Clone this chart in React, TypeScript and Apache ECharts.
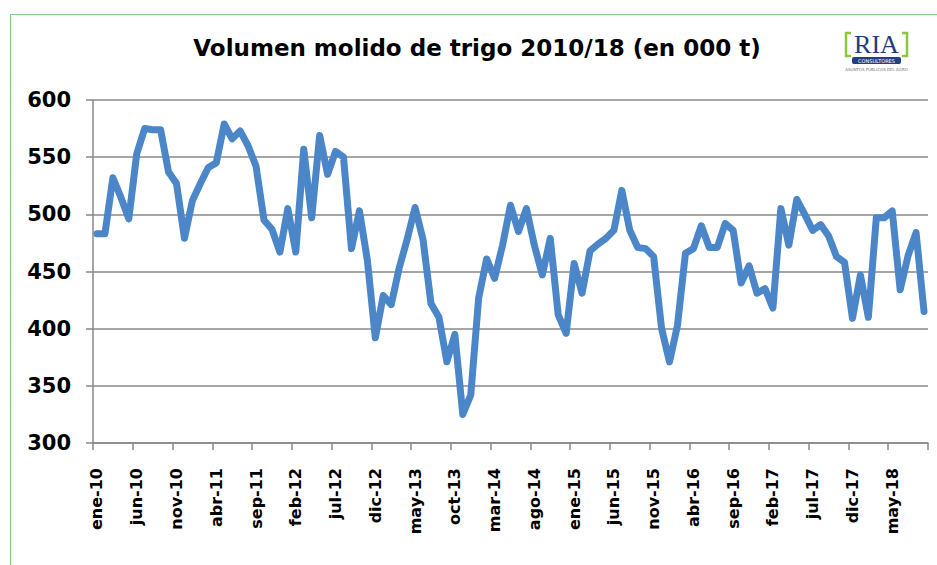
import React, { useEffect, useRef } from "react";
import * as echarts from "echarts";

const categories: string[] = [
  "ene-10", "feb-10", "mar-10", "abr-10", "may-10", "jun-10", "jul-10", "ago-10", "sep-10", "oct-10", "nov-10", "dic-10",
  "ene-11", "feb-11", "mar-11", "abr-11", "may-11", "jun-11", "jul-11", "ago-11", "sep-11", "oct-11", "nov-11", "dic-11",
  "ene-12", "feb-12", "mar-12", "abr-12", "may-12", "jun-12", "jul-12", "ago-12", "sep-12", "oct-12", "nov-12", "dic-12",
  "ene-13", "feb-13", "mar-13", "abr-13", "may-13", "jun-13", "jul-13", "ago-13", "sep-13", "oct-13", "nov-13", "dic-13",
  "ene-14", "feb-14", "mar-14", "abr-14", "may-14", "jun-14", "jul-14", "ago-14", "sep-14", "oct-14", "nov-14", "dic-14",
  "ene-15", "feb-15", "mar-15", "abr-15", "may-15", "jun-15", "jul-15", "ago-15", "sep-15", "oct-15", "nov-15", "dic-15",
  "ene-16", "feb-16", "mar-16", "abr-16", "may-16", "jun-16", "jul-16", "ago-16", "sep-16", "oct-16", "nov-16", "dic-16",
  "ene-17", "feb-17", "mar-17", "abr-17", "may-17", "jun-17", "jul-17", "ago-17", "sep-17", "oct-17", "nov-17", "dic-17",
  "ene-18", "feb-18", "mar-18", "abr-18", "may-18", "jun-18", "jul-18", "ago-18", "sep-18",
];

const volumen: number[] = [
  483, 483, 532, 515, 496, 553, 575, 574, 574, 537, 527, 479,
  512, 527, 541, 545, 579, 566, 573, 560, 542, 495, 487, 467,
  505, 467, 557, 497, 569, 535, 555, 550, 470, 503, 460, 392,
  429, 421, 453, 478, 506, 478, 422, 410, 371, 395, 325, 342,
  427, 461, 444, 473, 508, 485, 505, 473, 447, 479, 412, 396,
  457, 431, 468, 474, 479, 486, 521, 486, 471, 470, 463, 400,
  371, 403, 466, 470, 490, 471, 471, 492, 486, 440, 455, 431,
  435, 418, 505, 473, 513, 500, 486, 491, 481, 463, 458, 409,
  447, 410, 497, 497, 503, 434, 464, 484, 415,
];

const yMin = 300;
const yMax = 600;
const yStep = 50;

const titleText = "Volumen molido de trigo 2010/18 (en 000 t)";

export default function App() {
  const ref = useRef<HTMLDivElement>(null);

  useEffect(() => {
    if (!ref.current) return;
    const chart = echarts.init(ref.current, null, { renderer: "svg" });
    const gray = "#898989";
    const green = "#8cc63f";
    chart.setOption({
      animation: false,
      backgroundColor: "#ffffff",
      grid: { left: 93, right: 9, top: 100, bottom: 122 },
      xAxis: {
        type: "category",
        data: categories,
        boundaryGap: true,
        axisLine: { show: true, lineStyle: { color: gray, width: 1.5 } },
        axisTick: { show: true, interval: 4, length: 7, lineStyle: { color: gray, width: 1.5 } },
        axisLabel: {
          interval: 4,
          rotate: 90,
          margin: 25,
          color: "#000",
          fontFamily: "DejaVu Sans",
          fontWeight: "bold",
          fontSize: 16,
        },
        splitLine: { show: false },
      },
      yAxis: {
        type: "value",
        min: yMin,
        max: yMax,
        interval: yStep,
        axisLine: { show: true, lineStyle: { color: gray, width: 1.5 } },
        axisTick: { show: true, length: 7, lineStyle: { color: gray, width: 1.5 } },
        axisLabel: {
          margin: 22,
          color: "#000",
          fontFamily: "DejaVu Sans",
          fontWeight: "bold",
          fontSize: 21,
        },
        splitLine: { show: true, lineStyle: { color: gray, width: 1.5 } },
      },
      series: [
        {
          type: "line",
          data: volumen,
          symbol: "none",
          showSymbol: false,
          lineStyle: { color: "#4a86c8", width: 7, join: "round", cap: "round" },
          z: 3,
        },
      ],
      graphic: [
        {
          type: "rect",
          shape: { x: 10.5, y: 14.5, width: 960, height: 600 },
          style: { fill: "none", stroke: "#86c786", lineWidth: 1 },
          silent: true,
        },
        {
          type: "text",
          x: 477,
          y: 48,
          style: {
            text: titleText,
            fill: "#000",
            font: "bold 23px 'DejaVu Sans'",
            textAlign: "center",
            textVerticalAlign: "middle",
          },
        },
        {
          type: "polyline",
          shape: { points: [[851, 33], [846, 33], [846, 56], [851, 56]] },
          style: { stroke: green, lineWidth: 2.5, fill: "none" },
        },
        {
          type: "polyline",
          shape: { points: [[902, 33], [907, 33], [907, 56], [902, 56]] },
          style: { stroke: green, lineWidth: 2.5, fill: "none" },
        },
        {
          type: "text",
          x: 876.5,
          y: 44,
          style: {
            text: "RIA",
            fill: "#1f3d78",
            font: "26px 'Liberation Serif'",
            textAlign: "center",
            textVerticalAlign: "middle",
          },
        },
        {
          type: "rect",
          shape: { x: 852, y: 57, width: 49, height: 7, r: 2 },
          style: { fill: "#243f7e" },
        },
        {
          type: "text",
          x: 876.5,
          y: 60.5,
          style: {
            text: "CONSULTORES",
            fill: "#ffffff",
            font: "5px 'DejaVu Sans'",
            textAlign: "center",
            textVerticalAlign: "middle",
          },
        },
        {
          type: "text",
          x: 876.5,
          y: 69,
          style: {
            text: "ASUNTOS PÚBLICOS DEL AGRO",
            fill: "#777777",
            font: "4px 'DejaVu Sans'",
            textAlign: "center",
            textVerticalAlign: "middle",
          },
        },
      ],
    });
    return () => {
      chart.dispose();
    };
  }, []);

  return (
    <div
      ref={ref}
      style={{ position: "absolute", left: 0, top: 0, width: 937, height: 565 }}
    />
  );
}
